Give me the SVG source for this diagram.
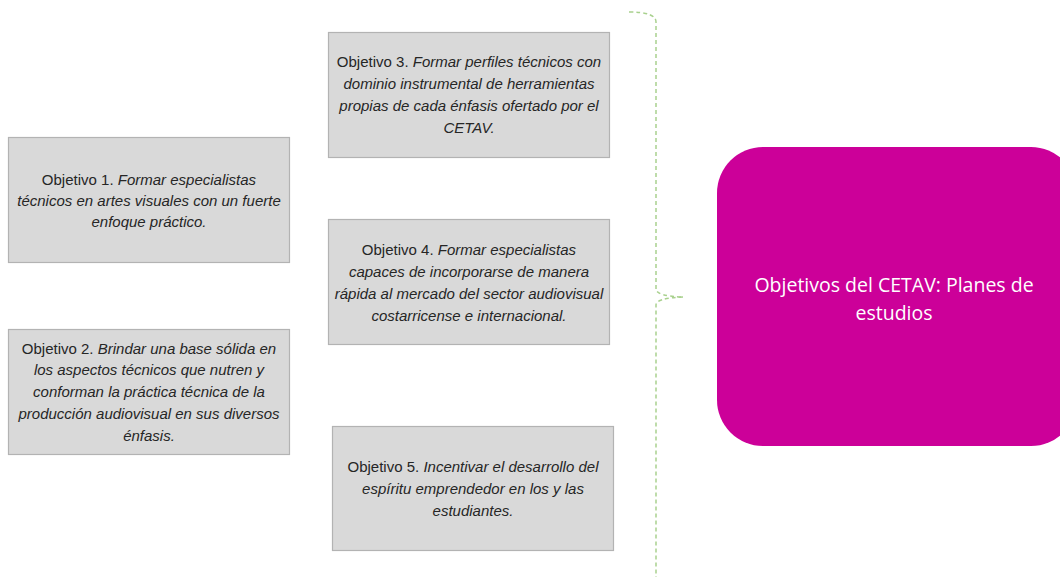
<svg xmlns="http://www.w3.org/2000/svg" width="1060" height="577" viewBox="0 0 1060 577">
<style>
.box{fill:#d9d9d9;stroke:#b3b3b3;stroke-width:1.2}
.t{font-family:"Liberation Sans",Arial,sans-serif;font-size:15px;fill:#262626;text-anchor:middle}
.i{font-style:italic}
.main{fill:#cc0099}
.mt{font-family:"Open Sans","Noto Sans",sans-serif;font-size:19.5px;fill:#ffffff;text-anchor:middle}
.brace{fill:none;stroke:#a9d18e;stroke-width:1.5;stroke-dasharray:4 3}
</style>
<rect width="1060" height="577" fill="#ffffff"/>
<g id="connectors">
<path class="brace" d="M629,12 Q656,12 656,22 L656,289 Q656,296 683,297"/>
<path class="brace" d="M683,297 Q656,298 656,305 L656,577"/>
</g>
<g id="obj3">
<rect class="box" x="328.5" y="32.5" width="281" height="125"/>
<text class="t" x="469" y="67"><tspan>Objetivo 3. </tspan><tspan class="i">Formar perfiles técnicos con</tspan></text>
<text class="t i" x="469" y="89">dominio instrumental de herramientas</text>
<text class="t i" x="469" y="111">propias de cada énfasis ofertado por el</text>
<text class="t i" x="469" y="133">CETAV.</text>
</g>
<g id="obj1">
<rect class="box" x="8.5" y="137.5" width="281" height="125"/>
<text class="t" x="149" y="185"><tspan>Objetivo 1. </tspan><tspan class="i">Formar especialistas</tspan></text>
<text class="t i" x="149" y="206">técnicos en artes visuales con un fuerte</text>
<text class="t i" x="149" y="227">enfoque práctico.</text>
</g>
<g id="obj4">
<rect class="box" x="328.5" y="219.5" width="281" height="125"/>
<text class="t" x="469" y="255"><tspan>Objetivo 4. </tspan><tspan class="i">Formar especialistas</tspan></text>
<text class="t i" x="469" y="277">capaces de incorporarse de manera</text>
<text class="t i" x="469" y="299">rápida al mercado del sector audiovisual</text>
<text class="t i" x="469" y="321">costarricense e internacional.</text>
</g>
<g id="obj2">
<rect class="box" x="8.5" y="329.5" width="281" height="125"/>
<text class="t" x="149" y="354"><tspan>Objetivo 2. </tspan><tspan class="i">Brindar una base sólida en</tspan></text>
<text class="t i" x="149" y="375">los aspectos técnicos que nutren y</text>
<text class="t i" x="149" y="397">conforman la práctica técnica de la</text>
<text class="t i" x="149" y="419">producción audiovisual en sus diversos</text>
<text class="t i" x="149" y="441">énfasis.</text>
</g>
<g id="obj5">
<rect class="box" x="332.5" y="426.5" width="281" height="124"/>
<text class="t" x="473" y="472"><tspan>Objetivo 5. </tspan><tspan class="i">Incentivar el desarrollo del</tspan></text>
<text class="t i" x="473" y="494">espíritu emprendedor en los y las</text>
<text class="t i" x="473" y="516">estudiantes.</text>
</g>
<g id="main">
<rect class="main" x="717" y="147" width="360" height="299" rx="46" ry="46"/>
<text class="mt" x="894" y="292">Objetivos del CETAV: Planes de</text>
<text class="mt" x="894" y="320">estudios</text>
</g>
</svg>
